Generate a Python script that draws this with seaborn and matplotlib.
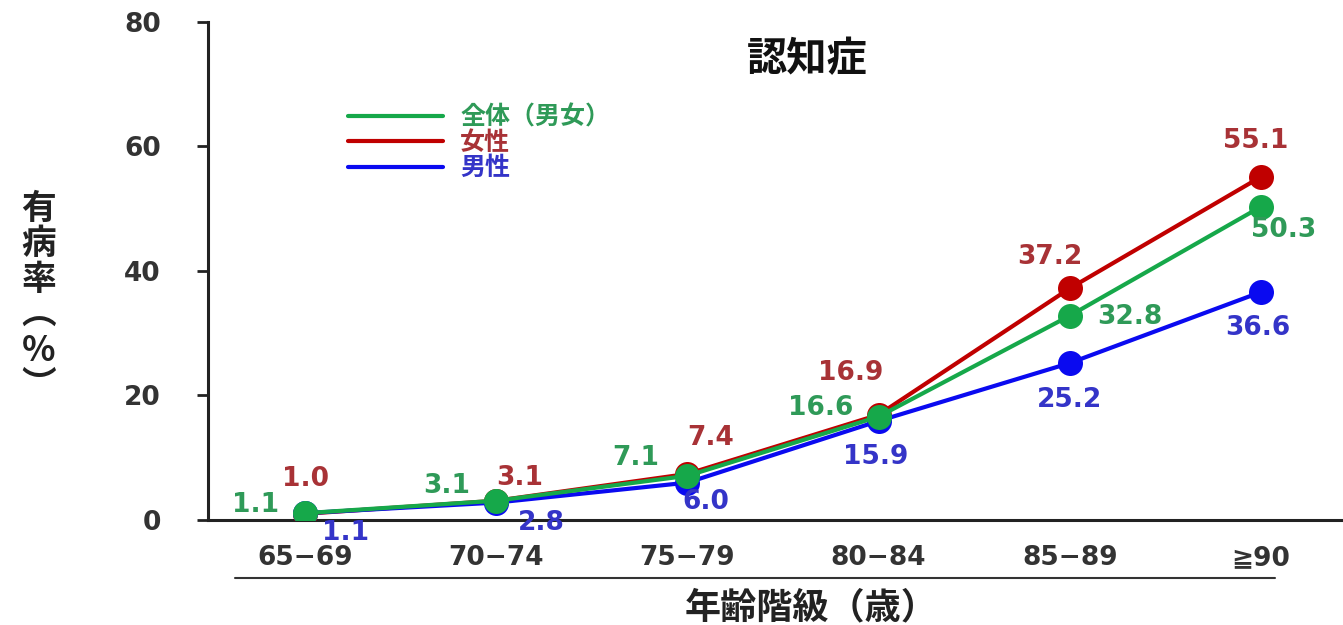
import numpy as np
import pandas as pd
import matplotlib
matplotlib.use("Agg")
import matplotlib.pyplot as plt
import seaborn as sns

# =========================
# DATA
# =========================

age_groups = ["65−69", "70−74", "75−79", "80−84", "85−89", "≧90"]
total = [1.1, 3.1, 7.1, 16.6, 32.8, 50.3]
female = [1.0, 3.1, 7.4, 16.9, 37.2, 55.1]
male = [1.1, 2.8, 6.0, 15.9, 25.2, 36.6]

series_names = ["全体（男女）", "女性", "男性"]
line_colors = {"全体（男女）": "#16a84a", "女性": "#c00000", "男性": "#0a0af0"}
text_colors = {"全体（男女）": "#2f9a58", "女性": "#a83236", "男性": "#3434c8"}

# label offsets in pixels (dx, dy)
offsets = {
    "全体（男女）": [(-50, 8), (-50, 15), (-52, 18), (-58, 9), (60, -1), (23, -23)],
    "女性": [(0, 35), (23, 23), (23, 36), (-28, 42), (-20, 31), (-5, 36)],
    "男性": [(40, -20), (45, -20), (18, -19), (-3, -36), (0, -37), (-3, -36)],
}

df = pd.DataFrame({
    "pos": np.tile(np.arange(len(age_groups)), 3),
    "rate": total + female + male,
    "group": np.repeat(series_names, len(age_groups)),
})

# =========================
# STYLE
# =========================

sns.set_style("white")
fonts = ["DejaVu Sans", "Noto Sans CJK JP"]
cjk = ["Noto Sans CJK JP", "DejaVu Sans"]
plt.rcParams["font.family"] = fonts

fig = plt.figure(figsize=(13.43, 6.25), dpi=100)
ax = fig.add_axes([0.155, 0.168, 0.845, 0.797])

# draw red, blue, then green on top
for name in ["女性", "男性", "全体（男女）"]:
    sub = df[df["group"] == name]
    sns.lineplot(data=sub, x="pos", y="rate", color=line_colors[name],
                 lw=3, marker="o", markersize=18, markeredgewidth=0,
                 ax=ax, legend=False, zorder=3)

# value labels
for name in series_names:
    sub = df[df["group"] == name]
    for (x, y), (dx, dy) in zip(zip(sub["pos"], sub["rate"]), offsets[name]):
        ax.annotate(f"{y:.1f}", (x, y), xytext=(dx, dy), textcoords="offset pixels",
                    ha="center", va="center", fontsize=19, fontweight="bold",
                    color=text_colors[name], zorder=5)

# =========================
# AXES
# =========================

ax.set_xlim(-0.508, 5.43)
ax.set_ylim(0, 80)
ax.set_yticks([0, 20, 40, 60, 80])
ax.set_xticks(range(len(age_groups)))
ax.set_xticklabels(age_groups)
ax.tick_params(axis="y", length=8, width=2, color="#222222", labelsize=19,
               labelcolor="#333333", pad=26, left=True)
ax.tick_params(axis="x", length=0, labelsize=19, labelcolor="#333333", pad=18)
for lbl in ax.get_xticklabels() + ax.get_yticklabels():
    lbl.set_fontweight("bold")

sns.despine(ax=ax)
for sp in ["left", "bottom"]:
    ax.spines[sp].set_linewidth(2.2)
    ax.spines[sp].set_color("#222222")
ax.set_xlabel("")
ax.set_ylabel("")

# underline beneath tick labels
ax.plot([0.024, 0.94], [-0.1165, -0.1165], transform=ax.transAxes,
        color="#333333", lw=1.5, clip_on=False)

# x label
fig.text(0.604, 0.028, "年齢階級（歳）", ha="center", va="center", family=cjk,
         fontsize=26, fontweight="bold", color="#222222")

# y label (vertical stacked)
fig.text(0.029, 0.525, "有\n病\n率\n︵\n%\n︶", ha="center", va="center", family=cjk,
         fontsize=25, fontweight="bold", color="#222222", linespacing=1.02)

# title
ax.text(0.528, 0.925, "認知症", transform=ax.transAxes, ha="center", va="center",
        family=cjk, fontsize=29, fontweight="bold", color="#111111")

# legend
handles = [plt.Line2D([], [], color=line_colors[n], lw=3) for n in series_names]
leg = ax.legend(handles, series_names, loc="upper left", bbox_to_anchor=(0.103, 0.877),
                frameon=False, handlelength=3.8, handletextpad=0.7,
                labelspacing=0.05, prop={"size": 18, "weight": "bold", "family": cjk})
for t, n in zip(leg.get_texts(), series_names):
    t.set_color(text_colors[n])

fig.savefig("out.png", dpi=100)
